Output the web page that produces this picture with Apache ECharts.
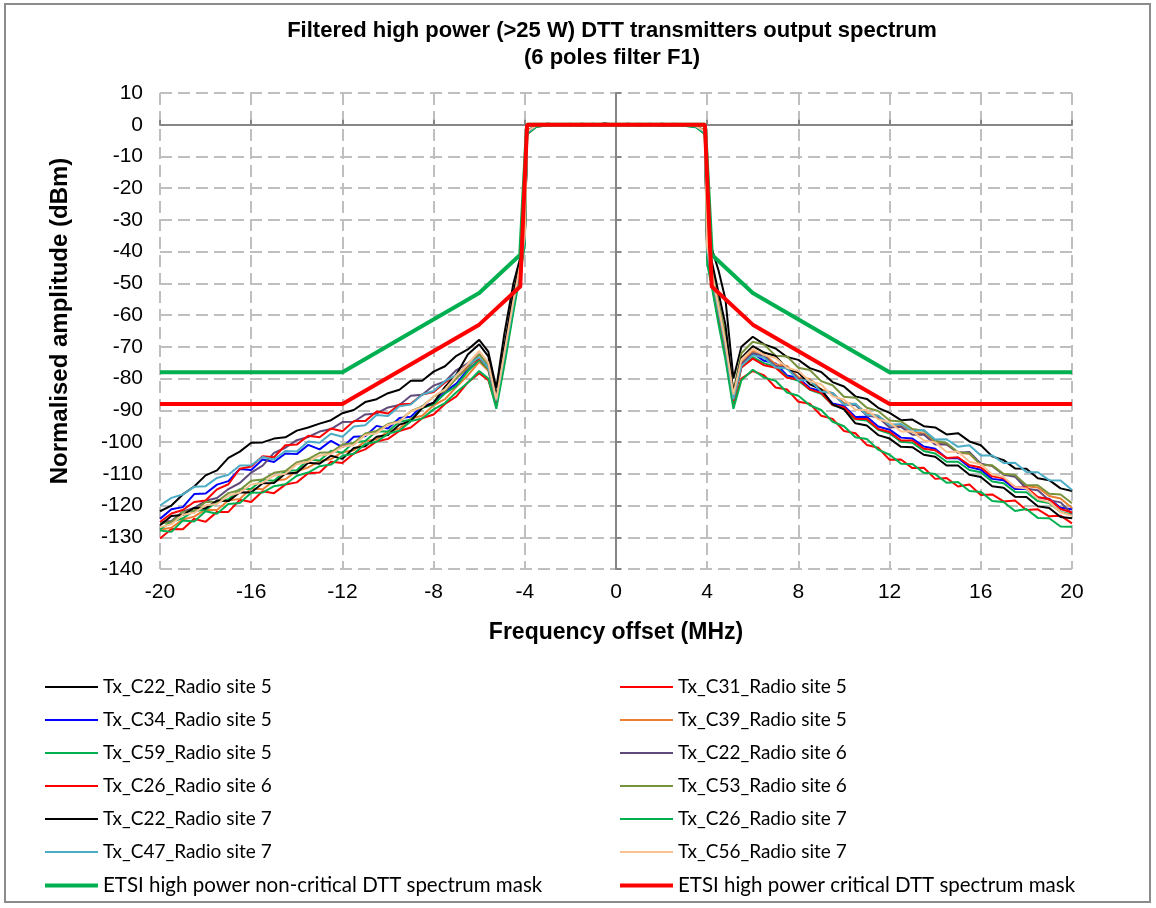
<!DOCTYPE html>
<html>
<head>
<meta charset="utf-8">
<script src="https://cdn.jsdelivr.net/npm/echarts@6/dist/echarts.min.js"></script>
<style>html,body{margin:0;padding:0;background:#fff;}#c{width:1156px;height:908px;}</style>
</head>
<body>
<div id="c"></div>
<script>
// Frequency offsets (MHz) shared by all measured traces
const freq = [
  -20,-19.5,-19,-18.5,-18,-17.5,-17,-16.5,-16,-15.5,-15,-14.5,-14,-13.5,-13,-12.5,-12,-11.5,-11,-10.5,-10,-9.5,-9,-8.5,-8,-7.5,-7,-6.5,-6,
  -5.6,-5.25,-4.9,-4.5,-4.2,-4.0,-3.9,
  -3.5,-3,-2.5,-2,-1.5,-1,-0.5,0,0.5,1,1.5,2,2.5,3,3.5,
  3.9,4.0,4.2,4.5,4.8,5.15,5.5,
  6,6.5,7,7.5,8,8.5,9,9.5,10,10.5,11,11.5,12,12.5,13,13.5,14,14.5,15,15.5,16,16.5,17,17.5,18,18.5,19,19.5,20
];

const c22s5 = [
  -121.8,-120.0,-116.5,-114.0,-110.5,-108.9,-105.0,-103.0,-100.2,-100.1,-98.9,-98.5,-96.4,-95.4,-94.2,-93.1,-90.9,-89.9,-87.4,-86.5,-84.6,-83.5,-80.7,-80.7,-77.8,-76.1,-72.8,-70.8,-67.8,
  -71.5,-83,-66,-50,-42,-33,-2.5,
  -0.3,0.2,0.1,-0.2,0.3,0.0,0.2,-0.1,0.3,0.1,-0.2,0.2,0.0,-0.1,-0.4,
  -2.5,-33,-39,-46,-55,-80,-70,
  -66.8,-69.2,-70.5,-73.2,-74.1,-76.7,-77.9,-81.1,-82.5,-85.6,-86.4,-89.2,-90.8,-93.1,-92.9,-95.0,-95.4,-97.6,-97.2,-99.8,-101.0,-104.5,-105.7,-108.3,-108.4,-111.4,-112.0,-114.6,-115.4
];
const c31s5 = [
  -130.4,-127.4,-127.5,-124.2,-125.1,-122.0,-122.0,-118.2,-118.9,-115.5,-116.1,-113.4,-112.7,-109.8,-109.6,-106.2,-106.6,-103.6,-102.3,-99.8,-99.0,-96.5,-95.4,-92.5,-91.3,-88.0,-85.6,-81.2,-78.3,
  -80.5,-88.5,-75,-58,-46,-37,-3,
  -0.6,-0.2,0.1,0.0,-0.3,0.2,-0.1,0.1,-0.2,0.0,0.2,-0.1,-0.3,0.0,-0.5,
  -3,-42,-50,-62,-73,-88.5,-80,
  -77.6,-79.0,-82.8,-83.4,-87.3,-87.9,-91.7,-92.7,-96.5,-97.2,-100.9,-101.8,-105.6,-105.5,-108.2,-108.1,-111.6,-111.3,-114.0,-113.4,-116.7,-116.5,-118.7,-118.4,-121.4,-121.2,-123.4,-123.2,-125.6
];
const c34s5 = [
  -124.2,-121.2,-120.5,-116.4,-116.2,-113.4,-112.3,-108.5,-108.8,-105.5,-106.3,-103.6,-103.8,-100.9,-102.3,-99.6,-101.6,-98.3,-98.2,-94.9,-95.7,-92.4,-92.0,-88.7,-87.7,-84.2,-81.6,-77.2,-74.2,
  -77,-87.5,-73,-57,-45,-36,-2.5,
  -0.4,0.0,-0.2,0.2,0.1,-0.1,0.3,0.0,-0.2,0.2,0.1,-0.3,0.1,-0.2,-0.6,
  -2.5,-40,-48,-59,-70,-86.5,-75.5,
  -72.1,-74.4,-75.2,-79.0,-79.8,-83.0,-83.9,-87.8,-88.6,-92.1,-92.0,-95.1,-96.1,-98.6,-98.9,-101.4,-102.1,-105.1,-105.0,-107.9,-108.7,-111.6,-112.0,-114.8,-114.8,-117.6,-117.9,-120.7,-121.2
];
const c39s5 = [
  -127.6,-127.0,-124.4,-123.5,-121.3,-121.4,-118.4,-117.9,-114.6,-114.9,-112.2,-111.7,-109.1,-108.0,-106.0,-105.4,-103.2,-102.6,-99.7,-99.1,-96.7,-95.7,-92.6,-91.7,-88.4,-86.5,-82.6,-79.0,-74.7,
  -77.5,-87,-73,-56.5,-45,-35,-2,
  -0.2,0.3,0.0,0.1,-0.2,0.2,0.0,0.3,0.1,-0.1,0.2,0.0,0.3,0.1,-0.3,
  -2,-39,-47,-58,-69,-86,-75,
  -71.4,-72.4,-75.5,-76.0,-79.6,-80.1,-83.4,-84.6,-87.7,-88.0,-90.9,-91.7,-94.4,-94.7,-96.8,-97.3,-100.1,-100.8,-103.2,-103.8,-107.1,-107.5,-110.1,-110.5,-113.9,-114.3,-117.0,-117.8,-120.8
];
const c59s5 = [
  -127.5,-125.1,-124.0,-121.7,-121.3,-119.0,-118.0,-114.9,-114.7,-111.9,-112.2,-109.1,-108.9,-105.5,-105.8,-102.7,-103.4,-100.1,-99.7,-96.6,-96.7,-93.6,-93.0,-89.3,-88.1,-84.7,-82.3,-77.7,-74.1,
  -77,-88,-74,-57.5,-46,-36,-2.5,
  -0.5,-0.1,0.2,-0.1,0.0,0.3,-0.2,0.1,0.0,0.2,-0.2,0.1,0.0,-0.3,-0.7,
  -2.5,-40,-48.5,-60,-71,-87.5,-76.5,
  -73.2,-75.2,-76.2,-79.5,-80.7,-83.5,-84.8,-88.3,-89.5,-92.8,-93.2,-96.1,-97.3,-99.9,-100.2,-102.8,-103.6,-106.2,-106.2,-108.8,-109.5,-112.4,-113.0,-115.7,-115.8,-118.6,-119.2,-122.0,-122.8
];
const c22s6 = [
  -125.2,-124.9,-121.9,-120.8,-118.5,-117.6,-114.8,-112.9,-109.6,-107.4,-103.4,-101.8,-99.4,-98.4,-96.7,-95.9,-93.7,-93.6,-91.3,-91.0,-89.1,-88.3,-85.4,-85.1,-82.2,-80.9,-77.3,-75.2,-72.3,
  -75.5,-87,-72.5,-56,-44.5,-35.5,-2,
  -0.3,0.1,-0.1,0.2,0.0,-0.2,0.1,0.2,-0.1,0.0,0.3,-0.1,0.2,0.0,-0.4,
  -2,-39,-47,-58.5,-69.5,-86,-75.5,
  -72.0,-72.9,-76.2,-76.5,-80.1,-80.5,-84.0,-84.6,-88.2,-88.3,-91.6,-92.2,-95.4,-95.2,-97.7,-97.6,-100.8,-100.7,-103.4,-103.1,-106.8,-107.5,-110.3,-110.9,-114.7,-115.2,-118.3,-119.0,-122.6
];
const c26s6 = [
  -125.2,-122.5,-121.4,-118.9,-118.4,-114.9,-113.3,-108.4,-107.7,-104.5,-104.8,-101.0,-100.8,-98.0,-98.5,-95.7,-96.6,-93.4,-93.4,-90.4,-91.0,-88.2,-87.9,-85.0,-84.2,-81.2,-79.2,-75.9,-73.6,
  -76.5,-87.5,-73,-57,-45.5,-36,-2.5,
  -0.5,0.0,0.2,-0.2,0.1,0.0,-0.1,0.2,0.1,-0.3,0.0,0.2,-0.1,-0.2,-0.6,
  -2.5,-40,-48.5,-59.5,-70.5,-87,-76.5,
  -73.7,-75.8,-76.6,-79.7,-80.2,-83.4,-84.5,-88.3,-89.0,-92.7,-92.7,-95.9,-96.8,-99.5,-99.5,-102.1,-102.6,-105.0,-104.8,-107.3,-108.0,-110.8,-111.4,-114.2,-114.3,-117.3,-118.0,-121.1,-122.2
];
const c53s6 = [
  -125.7,-125.2,-122.0,-121.6,-118.9,-118.8,-116.1,-115.1,-112.2,-111.8,-109.7,-109.1,-106.4,-105.4,-103.4,-103.2,-100.8,-100.3,-97.3,-96.5,-94.3,-93.4,-90.3,-88.8,-85.7,-83.9,-79.9,-76.7,-72.4,
  -75.5,-86.5,-72,-56,-44.5,-35,-2,
  -0.2,0.2,0.0,0.3,-0.1,0.1,0.2,-0.2,0.0,0.3,0.1,0.0,-0.2,0.2,-0.3,
  -2,-37,-45,-56,-66,-84,-72,
  -68.4,-69.3,-72.8,-73.0,-76.6,-77.3,-80.8,-82.1,-85.7,-86.0,-89.2,-90.2,-93.2,-93.5,-95.9,-96.4,-99.6,-100.3,-103.2,-103.5,-107.2,-107.3,-110.1,-110.4,-113.6,-113.6,-116.3,-116.5,-119.3
];
const c22s7 = [
  -126.2,-123.3,-123.0,-120.7,-120.9,-118.4,-118.6,-115.8,-115.9,-113.0,-112.9,-109.9,-109.7,-106.5,-106.8,-104.3,-105.3,-101.9,-101.3,-98.3,-97.8,-94.5,-93.4,-89.2,-87.6,-82.6,-78.7,-72.4,-69.2,
  -73,-85.5,-70,-53,-43,-34,-2,
  -0.3,0.3,0.1,0.0,0.2,-0.1,0.4,0.1,0.2,0.0,-0.1,0.3,0.1,0.0,-0.4,
  -2,-36,-43,-53,-63,-84.5,-73.5,
  -69.8,-71.8,-72.9,-76.9,-78.1,-81.8,-83.4,-88.1,-89.7,-94.1,-94.8,-97.8,-98.9,-101.5,-101.6,-104.0,-104.6,-107.4,-107.4,-110.3,-111.0,-113.9,-114.4,-117.2,-117.3,-120.2,-120.8,-123.6,-124.0
];
const c26s7 = [
  -127.9,-128.3,-124.7,-125.0,-121.8,-122.6,-119.5,-119.2,-116.0,-115.9,-113.9,-113.3,-110.6,-109.6,-107.6,-107.1,-104.3,-103.7,-100.6,-99.9,-97.4,-96.4,-93.4,-92.6,-89.7,-87.7,-84.3,-81.3,-77.6,
  -80,-89.5,-76,-59,-47,-38,-3,
  -0.7,-0.2,0.0,0.1,-0.2,0.0,0.2,-0.1,0.0,-0.2,0.1,0.0,-0.2,-0.3,-0.8,
  -3,-44,-51,-63,-74,-89.5,-80.5,
  -77.2,-79.7,-80.7,-84.4,-85.4,-88.4,-89.9,-93.6,-95.0,-98.5,-99.0,-102.4,-104.0,-106.8,-106.9,-109.7,-110.1,-112.8,-112.6,-115.4,-115.7,-118.6,-118.9,-121.7,-121.1,-123.9,-124.0,-126.6,-126.7
];
const c47s7 = [
  -120.0,-117.6,-116.5,-114.1,-113.9,-111.3,-110.3,-107.4,-107.3,-104.7,-105.5,-102.8,-103.0,-99.8,-100.2,-97.4,-98.3,-95.1,-94.7,-91.5,-91.8,-88.7,-88.2,-85.0,-83.9,-80.8,-78.9,-75.6,-73.3,
  -76.5,-87,-73,-56.5,-45,-36,-2.5,
  -0.4,0.1,-0.1,0.1,0.2,0.0,-0.2,0.1,0.2,0.0,-0.1,0.2,0.0,-0.1,-0.5,
  -2.5,-40,-48,-59,-70,-86.5,-76,
  -72.6,-73.4,-76.5,-76.8,-80.5,-80.5,-84.1,-84.5,-88.2,-87.9,-91.4,-91.7,-94.6,-94.3,-96.6,-96.2,-99.2,-99.1,-101.5,-101.0,-104.2,-104.2,-106.6,-106.5,-109.4,-109.5,-112.0,-112.1,-115.1
];
const c56s7 = [
  -126.8,-125.9,-122.9,-122.3,-119.9,-119.5,-116.9,-115.9,-113.4,-112.8,-110.6,-110.0,-107.0,-106.2,-104.3,-103.7,-101.5,-100.9,-97.8,-97.2,-94.6,-93.6,-90.3,-89.0,-85.6,-83.4,-79.1,-75.4,-71.3,
  -75,-86.5,-72,-55.5,-44,-35,-2,
  -0.3,0.2,0.1,-0.1,0.2,0.1,0.0,0.2,-0.1,0.1,0.2,0.0,0.1,0.0,-0.4,
  -2,-38.5,-46.5,-57.5,-68.5,-85,-74,
  -70.6,-72.6,-73.5,-76.6,-77.6,-80.8,-81.8,-85.6,-86.6,-89.8,-89.9,-92.8,-93.8,-96.7,-96.6,-99.5,-100.1,-103.1,-103.0,-106.2,-107.0,-110.2,-111.0,-114.2,-114.6,-117.9,-118.9,-122.1,-123.2
];

// ETSI masks
const maskFreq = [-20, -12, -6, -4.2, -3.9, 3.9, 4.2, 6, 12, 20];
const maskNonCritical = [-78, -78, -53, -41, 0, 0, -41, -53, -78, -78];
const maskCritical = [-88, -88, -63, -51, 0, 0, -51, -63, -88, -88];

const names = [
  'Tx_C22_Radio site 5', 'Tx_C31_Radio site 5',
  'Tx_C34_Radio site 5', 'Tx_C39_Radio site 5',
  'Tx_C59_Radio site 5', 'Tx_C22_Radio site 6',
  'Tx_C26_Radio site 6', 'Tx_C53_Radio site 6',
  'Tx_C22_Radio site 7', 'Tx_C26_Radio site 7',
  'Tx_C47_Radio site 7', 'Tx_C56_Radio site 7',
  'ETSI high power non-critical DTT spectrum mask', 'ETSI high power critical DTT spectrum mask'
];
const colors = ['#000000','#ff0000','#0000ff','#ed7d31','#00b050','#604a7b','#ff0000','#77933c','#000000','#00b050','#4bacc6','#fac090','#00b050','#ff0000'];
const traces = [c22s5, c31s5, c34s5, c39s5, c59s5, c22s6, c26s6, c53s6, c22s7, c26s7, c47s7, c56s7];

const series = traces.map((arr, i) => ({
  name: names[i], type: 'line', xAxisIndex: 0, yAxisIndex: 0,
  data: freq.map((f, k) => [f, arr[k]]),
  symbol: 'none', lineStyle: { color: colors[i], width: 2 }, itemStyle: { color: colors[i] },
  z: 3 + i * 0.01
}));
series.push({
  name: names[12], type: 'line', data: maskFreq.map((f, k) => [f, maskNonCritical[k]]),
  symbol: 'none', lineStyle: { color: colors[12], width: 4 }, itemStyle: { color: colors[12] }, z: 4
});
series.push({
  name: names[13], type: 'line', data: maskFreq.map((f, k) => [f, maskCritical[k]]),
  symbol: 'none', lineStyle: { color: colors[13], width: 4 }, itemStyle: { color: colors[13] }, z: 4.1
});

const legendItems = names.map((n, i) => i >= 12
  ? { name: n, lineStyle: { width: 4 }, textStyle: { fontFamily: 'Lato', fontSize: 20.5, color: '#000', lineHeight: 20 } }
  : { name: n, lineStyle: { width: 2 } });
const legendText = { fontFamily: 'Lato', fontSize: 19, color: '#000', lineHeight: 20 };
const legendCommon = { orient: 'vertical', top: 672, itemWidth: 53, itemHeight: 14, itemGap: 13,
  textStyle: legendText, selectedMode: false, itemStyle: { opacity: 0 } };
const chart = echarts.init(document.getElementById('c'), null, { renderer: 'canvas' });
chart.setOption({
  animation: false,
  backgroundColor: '#fff',
  graphic: [
    { type: 'rect', shape: { x: 5, y: 4, width: 1145, height: 898 }, style: { fill: 'none', stroke: '#8c8c8c', lineWidth: 2 }, silent: true },
    { type: 'text', x: 612, y: 17, style: { text: 'Filtered high power (>25 W) DTT transmitters output spectrum\n(6 poles filter F1)', textAlign: 'center', font: 'bold 22px "Liberation Sans", Arial, sans-serif', lineHeight: 27, fill: '#000' } }
  ],
  grid: { left: 160, right: 84, top: 93, bottom: 339, containLabel: false },
  legend: [
    Object.assign({ data: legendItems.filter((n, i) => i % 2 === 0), left: 38 }, legendCommon),
    Object.assign({ data: legendItems.filter((n, i) => i % 2 === 1), left: 613 }, legendCommon)
  ],
  xAxis: [
    { type: 'value', min: -20, max: 20, interval: 4, position: 'bottom',
      axisLine: { show: false, onZero: false }, axisTick: { show: false },
      axisLabel: { fontSize: 21, color: '#000', fontFamily: 'Liberation Sans', margin: 13 },
      splitLine: { show: true, lineStyle: { type: [12, 6], color: '#bfbfbf', width: 2 } },
      name: 'Frequency offset (MHz)', nameLocation: 'middle', nameGap: 52,
      nameTextStyle: { fontSize: 23, fontWeight: 'bold', color: '#000', fontFamily: 'Liberation Sans' } },
    { type: 'value', min: -20, max: 20, interval: 4,
      axisLine: { show: true, onZero: true, lineStyle: { color: '#868686', width: 2 } },
      axisTick: { show: true, length: 5, lineStyle: { color: '#868686', width: 2 } },
      axisLabel: { show: false }, splitLine: { show: false } }
  ],
  yAxis: [
    { type: 'value', min: -140, max: 10, interval: 10, position: 'left',
      axisLine: { show: false, onZero: false }, axisTick: { show: false },
      axisLabel: { fontSize: 21, color: '#000', fontFamily: 'Liberation Sans', margin: 17 },
      splitLine: { show: true, lineStyle: { type: [12, 6], color: '#bfbfbf', width: 2 } },
      name: 'Normalised amplitude (dBm)', nameLocation: 'middle', nameGap: 88,
      nameTextStyle: { fontSize: 24, fontWeight: 'bold', color: '#000', fontFamily: 'Liberation Sans', padding: [0, 0, 0, 20] } },
    { type: 'value', min: -140, max: 10, interval: 10,
      axisLine: { show: true, onZero: true, lineStyle: { color: '#868686', width: 2 } },
      axisTick: { show: true, length: 5, lineStyle: { color: '#868686', width: 2 } },
      axisLabel: { show: false }, splitLine: { show: false } }
  ],
  series: series
});
</script>
</body>
</html>
